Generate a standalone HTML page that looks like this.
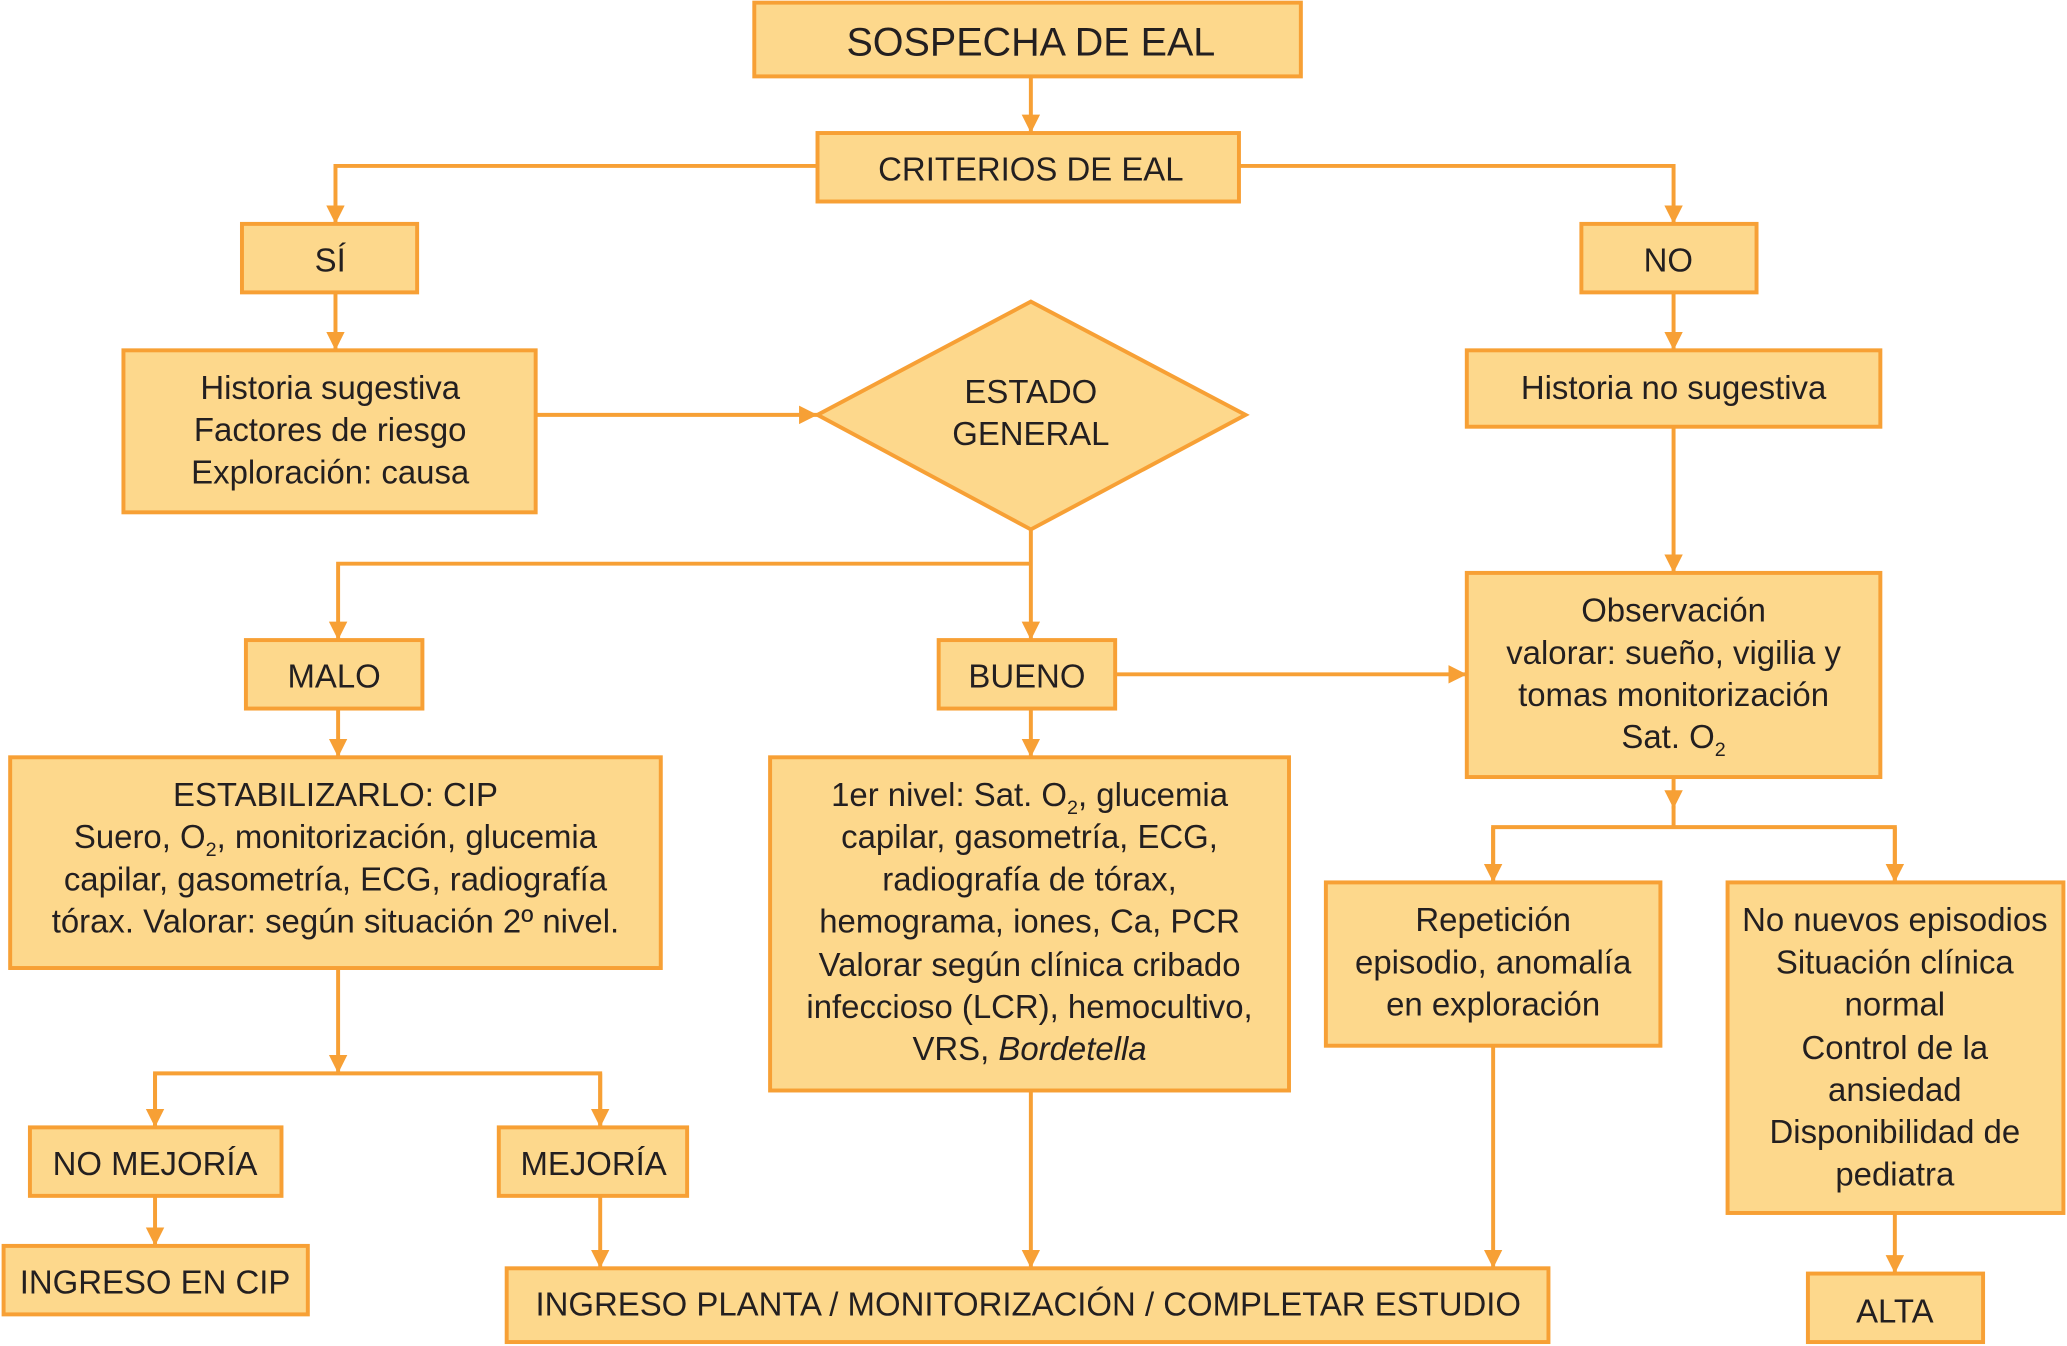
<!DOCTYPE html>
<html><head><meta charset="utf-8"><style>
html,body{margin:0;padding:0;background:#fff;}
svg{display:block;}
text{font-family:"Liberation Sans",sans-serif;fill:#231f20;text-anchor:middle;}
</style></head><body>
<svg width="2067" height="1346" viewBox="0 0 1568 1022" xmlns="http://www.w3.org/2000/svg">
<defs><marker id="a" markerWidth="16" markerHeight="16" refX="14" refY="7" orient="auto" markerUnits="userSpaceOnUse"><path d="M0,0 L14,7 L0,14 z" fill="#f7a035"/></marker></defs>
<g fill="#fdd88c" stroke="#f7a035" stroke-width="3">
<rect x="572" y="2" width="415" height="56"/>
<rect x="620" y="101" width="320" height="52"/>
<rect x="183" y="170" width="133" height="52"/>
<rect x="1200" y="170" width="133" height="52"/>
<rect x="93" y="266" width="313" height="123"/>
<polygon points="620,315 782,229 945,315 782,402"/>
<rect x="1113" y="266" width="314" height="58"/>
<rect x="186" y="486" width="134" height="52"/>
<rect x="712" y="486" width="134" height="52"/>
<rect x="1113" y="435" width="314" height="155"/>
<rect x="7" y="575" width="494" height="160"/>
<rect x="584" y="575" width="394" height="253"/>
<rect x="1006" y="670" width="254" height="124"/>
<rect x="1311" y="670" width="255" height="251"/>
<rect x="22" y="856" width="191" height="52"/>
<rect x="378" y="856" width="143" height="52"/>
<rect x="2" y="946" width="231" height="52"/>
<rect x="384" y="963" width="791" height="56"/>
<rect x="1372" y="967" width="133" height="52"/>
</g>
<g fill="none" stroke="#f7a035" stroke-width="3">
<path d="M782,58V101" marker-end="url(#a)"/>
<path d="M620,126H254V170" marker-end="url(#a)"/>
<path d="M940,126H1270V170" marker-end="url(#a)"/>
<path d="M254,222V266" marker-end="url(#a)"/>
<path d="M1270,222V266" marker-end="url(#a)"/>
<path d="M406,315H620" marker-end="url(#a)"/>
<path d="M1270,324V435" marker-end="url(#a)"/>
<path d="M782,402V486" marker-end="url(#a)"/>
<path d="M782,428H256V486" marker-end="url(#a)"/>
<path d="M846,512H1113" marker-end="url(#a)"/>
<path d="M256,538V575" marker-end="url(#a)"/>
<path d="M782,538V575" marker-end="url(#a)"/>
<path d="M1270,590V614" marker-end="url(#a)"/>
<path d="M1270,612V628"/>
<path d="M1133,670V628H1438V670" />
<path d="M1133,628V670" marker-end="url(#a)"/>
<path d="M1438,628V670" marker-end="url(#a)"/>
<path d="M256,735V815" marker-end="url(#a)"/>
<path d="M117,856V815H455V856"/>
<path d="M117,815V856" marker-end="url(#a)"/>
<path d="M455,815V856" marker-end="url(#a)"/>
<path d="M117,908V946" marker-end="url(#a)"/>
<path d="M455,908V963" marker-end="url(#a)"/>
<path d="M782,828V963" marker-end="url(#a)"/>
<path d="M1133,794V963" marker-end="url(#a)"/>
<path d="M1438,921V967" marker-end="url(#a)"/>
</g>
<g font-size="25">
<text x="782" y="42" font-size="30">SOSPECHA DE EAL</text>
<text x="782" y="137">CRITERIOS DE EAL</text>
<text x="250" y="206">SÍ</text>
<text x="1266" y="206">NO</text>
<text x="250" y="303">Historia sugestiva</text>
<text x="250" y="335">Factores de riesgo</text>
<text x="250" y="367">Exploración: causa</text>
<text x="782" y="306">ESTADO</text>
<text x="782" y="338">GENERAL</text>
<text x="1270" y="303">Historia no sugestiva</text>
<text x="253" y="522">MALO</text>
<text x="779" y="522">BUENO</text>
<text x="1270" y="472">Observación</text>
<text x="1270" y="504">valorar: sueño, vigilia y</text>
<text x="1270" y="536">tomas monitorización</text>
<text x="1270" y="568">Sat. O<tspan font-size="15" dy="6">2</tspan></text>
<text x="254" y="612">ESTABILIZARLO: CIP</text>
<text x="254" y="644">Suero, O<tspan font-size="15" dy="6">2</tspan><tspan dy="-6">, monitorización, glucemia</tspan></text>
<text x="254" y="676">capilar, gasometría, ECG, radiografía</text>
<text x="254" y="708">tórax. Valorar: según situación 2º nivel.</text>
<text x="781" y="612">1er nivel: Sat. O<tspan font-size="15" dy="6">2</tspan><tspan dy="-6">, glucemia</tspan></text>
<text x="781" y="644">capilar, gasometría, ECG,</text>
<text x="781" y="676">radiografía de tórax,</text>
<text x="781" y="708">hemograma, iones, Ca, PCR</text>
<text x="781" y="741">Valorar según clínica cribado</text>
<text x="781" y="773">infeccioso (LCR), hemocultivo,</text>
<text x="781" y="805">VRS, <tspan font-style="italic">Bordetella</tspan></text>
<text x="1133" y="707">Repetición</text>
<text x="1133" y="739">episodio, anomalía</text>
<text x="1133" y="771">en exploración</text>
<text x="1438" y="707">No nuevos episodios</text>
<text x="1438" y="739">Situación clínica</text>
<text x="1438" y="771">normal</text>
<text x="1438" y="804">Control de la</text>
<text x="1438" y="836">ansiedad</text>
<text x="1438" y="868">Disponibilidad de</text>
<text x="1438" y="900">pediatra</text>
<text x="117" y="892">NO MEJORÍA</text>
<text x="450" y="892">MEJORÍA</text>
<text x="117" y="982">INGRESO EN CIP</text>
<text x="780" y="999">INGRESO PLANTA / MONITORIZACIÓN / COMPLETAR ESTUDIO</text>
<text x="1438" y="1004">ALTA</text>
</g>
</svg>
</body></html>
